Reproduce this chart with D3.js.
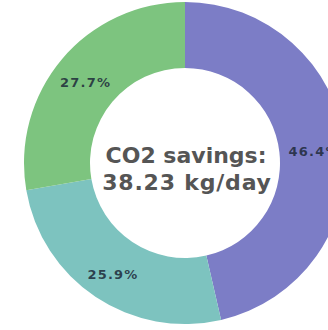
<!DOCTYPE html>
<html><head><meta charset="utf-8">
<script src="https://cdn.jsdelivr.net/npm/d3@7"></script>
<style>html,body{margin:0;padding:0;background:#fff;overflow:hidden}</style>
</head><body>
<svg id="chart" width="328" height="330"></svg>
<script>
const categories = ["A", "B", "C"];
const values = [46.4, 25.9, 27.7];
const labels = ["46.4%", "25.9%", "27.7%"];
const colors = ["#7c7dc6", "#7dc3bf", "#7dc47f"];
const centerLines = ["CO2 savings:", "38.23 kg/day"];

const svg = d3.select("#chart");
const cx = 185, cy = 163, rOuter = 161, rInner = 95;
const g = svg.append("g").attr("transform", `translate(${cx},${cy})`);

const pie = d3.pie().sort(null).value(d => d.v);
const data = categories.map((c, i) => ({c, v: values[i], l: labels[i], col: colors[i]}));
const arcs = pie(data);
const arc = d3.arc().innerRadius(rInner).outerRadius(rOuter);
const labelArc = d3.arc().innerRadius(130).outerRadius(130);

g.selectAll("path").data(arcs).join("path")
  .attr("d", arc).attr("fill", d => d.data.col);

g.selectAll("text.lbl").data(arcs).join("text")
  .attr("class", "lbl")
  .attr("transform", d => `translate(${labelArc.centroid(d)})`)
  .attr("text-anchor", "middle").attr("dy", "0.62em")
  .attr("font-family", "DejaVu Sans").attr("font-weight", "bold")
  .attr("font-size", 13).attr("letter-spacing", 1.2)
  .attr("fill", "#1e2a3a").attr("fill-opacity", 0.85)
  .text(d => d.data.l);

const ct = g.append("text").attr("text-anchor", "middle")
  .attr("font-family", "DejaVu Sans").attr("font-weight", "bold")
  .attr("font-size", 22).attr("fill", "#555");
ct.selectAll("tspan").data(centerLines).join("tspan")
  .attr("x", (d, i) => i === 1 ? 2 : 1).attr("y", (d, i) => 0 + i * 27)
  .attr("letter-spacing", (d, i) => i === 1 ? 0.8 : 0)
  .text(d => d);
</script>
</body></html>
